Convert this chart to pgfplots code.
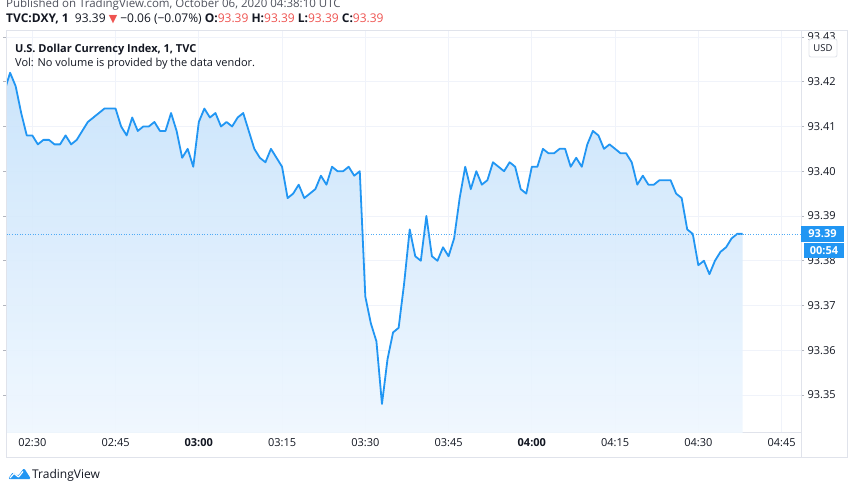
\documentclass[border=0pt]{standalone}
\usepackage{pgfplots}
\pgfplotsset{compat=1.18}
\usepackage{pgfplotstable}
\usepackage{fontspec}
\setmainfont{Open Sans}
\newfontfamily\dejavu{DejaVu Sans}
\definecolor{tvblue}{HTML}{2196F3}
\definecolor{tvtext}{HTML}{131722}
\definecolor{tvgray}{HTML}{50535E}
\definecolor{tvred}{HTML}{EF5350}
\definecolor{tvgrid}{HTML}{F0F3FA}
\definecolor{tvborder}{HTML}{E0E3EB}
\definecolor{tvtick}{HTML}{B2B5BE}
\definecolor{filltop}{RGB}{198,226,251}
\definecolor{fillbot}{RGB}{245,250,255}

\pgfplotstableread{
k v
-5 93.418
-4 93.422
-3 93.419
-2 93.413
-1 93.408
0 93.408
1 93.406
2 93.407
3 93.407
4 93.406
5 93.406
6 93.408
7 93.406
8 93.407
9 93.409
10 93.411
11 93.412
12 93.413
13 93.414
14 93.414
15 93.414
16 93.410
17 93.408
18 93.412
19 93.409
20 93.410
21 93.410
22 93.411
23 93.409
24 93.409
25 93.413
26 93.409
27 93.403
28 93.405
29 93.401
30 93.411
31 93.414
32 93.412
33 93.413
34 93.410
35 93.411
36 93.410
37 93.412
38 93.413
39 93.409
40 93.405
41 93.403
42 93.402
43 93.405
44 93.403
45 93.401
46 93.394
47 93.395
48 93.397
49 93.394
50 93.395
51 93.396
52 93.399
53 93.397
54 93.401
55 93.400
56 93.400
57 93.401
58 93.399
59 93.400
60 93.372
61 93.366
62 93.362
63 93.348
64 93.358
65 93.364
66 93.365
67 93.375
68 93.387
69 93.381
70 93.380
71 93.390
72 93.381
73 93.380
74 93.383
75 93.381
76 93.385
77 93.394
78 93.401
79 93.396
80 93.400
81 93.397
82 93.398
83 93.402
84 93.401
85 93.400
86 93.402
87 93.401
88 93.396
89 93.395
90 93.401
91 93.401
92 93.405
93 93.404
94 93.404
95 93.405
96 93.405
97 93.401
98 93.403
99 93.401
100 93.406
101 93.409
102 93.408
103 93.405
104 93.406
105 93.405
106 93.404
107 93.404
108 93.402
109 93.397
110 93.399
111 93.397
112 93.397
113 93.398
114 93.398
115 93.398
116 93.395
117 93.394
118 93.387
119 93.386
120 93.379
121 93.380
122 93.377
123 93.380
124 93.382
125 93.383
126 93.385
127 93.386
128 93.386
}\dxy

\begin{document}
\begin{tikzpicture}[x=1pt,y=1pt]
\useasboundingbox (0,0) rectangle (852,485);
\fill[white] (0,0) rectangle (852,485);
\begin{axis}[
  at={(6pt,53pt)}, anchor=south west,
  scale only axis, width=795pt, height=401pt,
  xmin=-4.74, xmax=138.5,
  ymin=93.34174, ymax=93.43133,
  axis line style={tvborder, line width=1pt},
  grid=major, grid style={tvgrid, line width=0.8pt},
  xtick={0,15,30,45,60,75,90,105,120,135},
  xticklabels={02:30,02:45,\textbf{03:00},03:15,03:30,03:45,\textbf{04:00},04:15,04:30,04:45},
  xtick style={draw=none},
  ytick={93.35,93.36,93.37,93.38,93.39,93.40,93.41,93.42,93.43},
  yticklabel pos=right,
  ytick style={draw=tvtick, line width=0.6pt},
  tick align=outside, major tick length=3pt,
  yticklabel style={/pgf/number format/.cd, fixed, fixed zerofill, precision=2, assume math mode=true},
  ticklabel style={font=\fontsize{11}{13}\selectfont, text=tvtext},
  clip=true,
]
\addplot[draw=none, top color=filltop, bottom color=fillbot, fill opacity=0.9, forget plot]
  table[x=k,y=v]{\dxy} -- (axis cs:128,93.33) -- (axis cs:-5,93.33) -- cycle;
\addplot[tvblue, line width=1.8pt, line join=round] table[x=k,y=v]{\dxy};
\addplot[tvblue!80, dotted, line width=0.6pt] coordinates {(-6,93.386) (140,93.386)};
\end{axis}
% outer pane frame
\draw[tvborder, line width=1pt] (6,27) rectangle (847,454);
\draw[tvborder, line width=1pt] (801,27) -- (801,454);
% header
\node[anchor=base west, inner sep=0pt, text=tvgray] at (6,477.7)
  {\fontsize{11.5}{13}\selectfont Published on TradingView.com, October 06, 2020 04:38:10 UTC};
\node[anchor=base west, inner sep=0pt, text=tvtext] at (6,462.3)
  {\fontsize{12}{14}\selectfont \textbf{TVC:DXY, 1}\ \ 93.39 {\dejavu\color{tvred}\fontsize{11}{12}\selectfont ▼} −0.06 (−0.07\%) \textbf{O:}\textcolor{tvred}{93.39} \textbf{H:}\textcolor{tvred}{93.39} \textbf{L:}\textcolor{tvred}{93.39} \textbf{C:}\textcolor{tvred}{93.39}};
% legend inside pane
\node[anchor=base west, inner sep=0pt, text=tvtext] at (15,432.3)
  {\fontsize{11}{13}\selectfont\bfseries U.S. Dollar Currency Index, 1, TVC};
\node[anchor=base west, inner sep=0pt, text=tvtext] at (15,418.3)
  {\fontsize{11}{13}\selectfont Vol: No volume is provided by the data vendor.};
% USD box
\draw[tvborder, fill=white, rounded corners=2pt, line width=0.8pt] (809,428) rectangle (837,446);
\node[text=tvtext, inner sep=0pt] at (823,437) {\fontsize{9.5}{11}\selectfont USD};
% price labels
\fill[tvblue] (801,259) rectangle (844,243);
\node[text=white, inner sep=0pt] at (822.5,251) {\fontsize{11}{13}\selectfont\bfseries 93.39};
\fill[tvblue] (804,242) rectangle (844,227);
\node[text=white, inner sep=0pt] at (824,234.5) {\fontsize{11}{13}\selectfont\bfseries 00:54};
% TradingView logo
\fill[tvblue, rounded corners=1.5pt] (8,6) -- (13,13) -- (18,9) -- (24,17) -- (31,6) -- cycle;
\draw[white, line width=1.2pt, line join=round] (10,7) -- (14,11.5) -- (18.5,8) -- (23,13.5);
\node[anchor=base west, inner sep=0pt, text=tvtext] at (32,6.5) {\fontsize{12}{14}\selectfont TradingView};
\end{tikzpicture}
\end{document}
